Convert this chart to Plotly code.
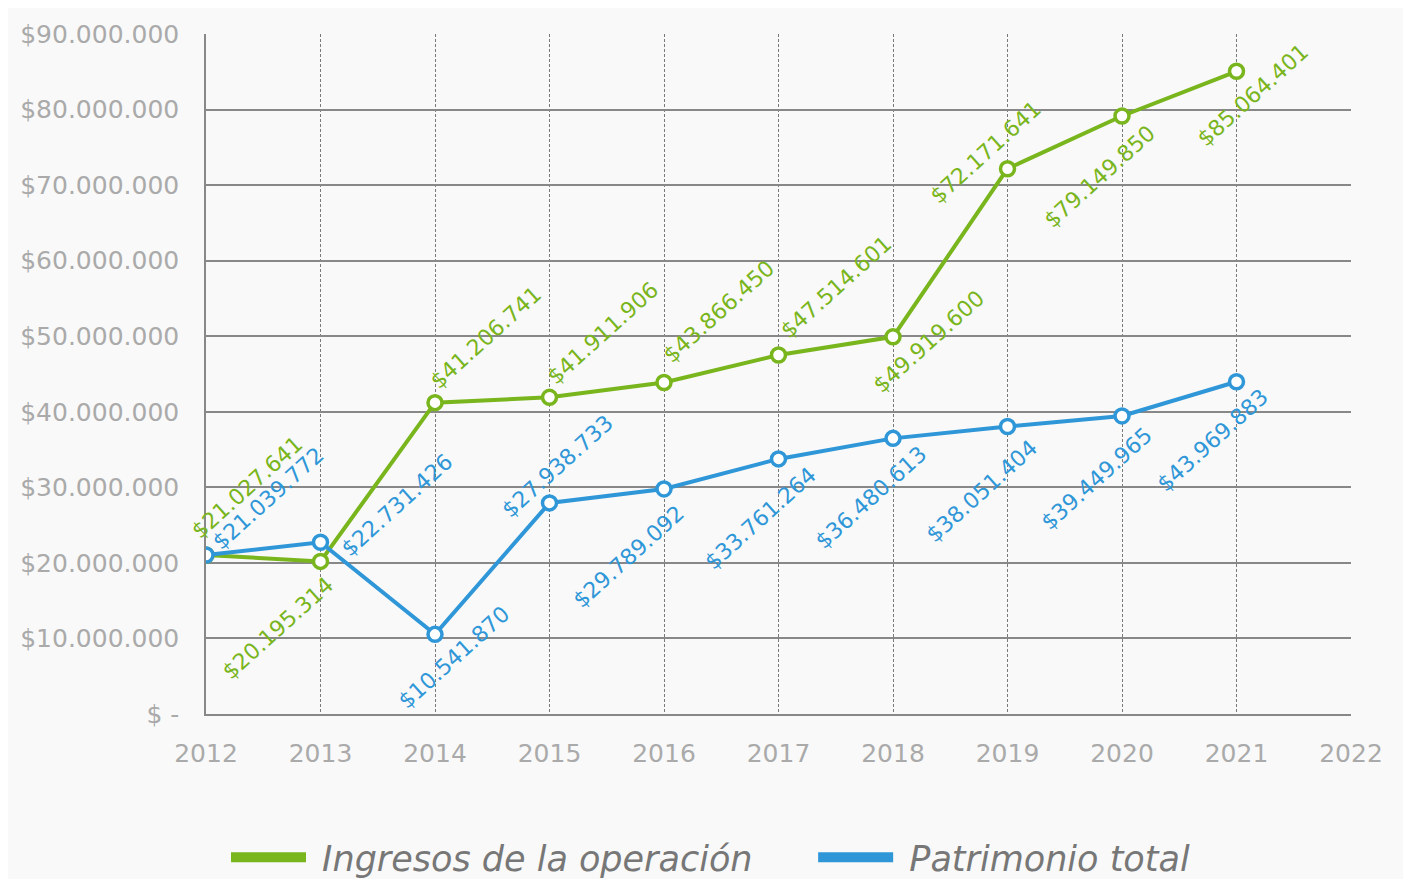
import plotly.graph_objects as go

years = [2012, 2013, 2014, 2015, 2016, 2017, 2018, 2019, 2020, 2021]
ingresos = [21027641, 20195314, 41206741, 41911906, 43866450, 47514601, 49919600, 72171641, 79149850, 85064401]
patrimonio = [21039772, 22731426, 10541870, 27938733, 29789092, 33761264, 36480613, 38051404, 39449965, 43969883]

ytick_vals = [0, 10e6, 20e6, 30e6, 40e6, 50e6, 60e6, 70e6, 80e6, 90e6]
ytick_text = ["$ -", "$10.000.000", "$20.000.000", "$30.000.000", "$40.000.000",
              "$50.000.000", "$60.000.000", "$70.000.000", "$80.000.000", "$90.000.000"]
xtick_vals = list(range(2012, 2023))

GREEN = "#79b51c"
BLUE = "#2f97d8"
BG = "#f9f9f9"

# label offsets in pixels (dx right, dy up) relative to each point
green_off = [(41, 68), (-43, -67), (51, 65), (53, 64), (55, 71), (57, 68), (36, -5), (-22, 16), (-22, -61), (16, -24)]
blue_off = [(62, 57), (76, 37), (19, -23), (8, 36), (-35, -68), (-18, -60), (-22, -59), (-26, -65), (-25, -63), (-24, -59)]


def fmt(v):
    return "$" + f"{v:,}".replace(",", ".")


fig = go.Figure()

for name, vals, col in [("Ingresos de la operación", ingresos, GREEN),
                        ("Patrimonio total", patrimonio, BLUE)]:
    fig.add_trace(go.Scatter(
        x=years, y=vals, mode="lines+markers", name=name, showlegend=False,
        line=dict(color=col, width=4),
        marker=dict(symbol="circle", size=14, color="white", line=dict(color=col, width=3.5)),
        hoverinfo="x+y",
    ))

legend_names = ["\u00a0Ingresos de la operación" + "\u00a0" * 5, "\u00a0Patrimonio total"]
for name, col in zip(legend_names, [GREEN, BLUE]):
    fig.add_trace(go.Scatter(x=[None], y=[None], mode="lines", name=name,
                             line=dict(color=col, width=14), showlegend=True))

annotations = []
for vals, offs, col in [(ingresos, green_off, GREEN), (patrimonio, blue_off, BLUE)]:
    for x, v, (dx, dy) in zip(years, vals, offs):
        annotations.append(dict(
            x=x, y=v, xref="x", yref="y", text=fmt(v), showarrow=False,
            textangle=-42, xanchor="center", yanchor="middle",
            xshift=dx, yshift=dy,
            font=dict(family="DejaVu Sans", size=22, color=col),
        ))

fig.update_layout(
    width=1411, height=879,
    margin=dict(l=197, r=68, t=19, b=173),
    paper_bgcolor=BG, plot_bgcolor=BG,
    annotations=annotations,
    legend=dict(orientation="h", xref="container", yref="container", x=0.1545, y=0.0,
                xanchor="left", yanchor="bottom", itemwidth=75,
                font=dict(family="DejaVu Sans", size=35, color="#777777", style="italic"),
                bgcolor="rgba(0,0,0,0)", traceorder="normal"),
    xaxis=dict(range=[2012, 2022], tickvals=xtick_vals, ticktext=[str(t) for t in xtick_vals],
               showgrid=True, gridcolor="#7a7a7a", gridwidth=1, griddash="3px,2px",
               showline=True, linecolor="#888888", linewidth=1.5,
               ticks="outside", ticklen=16, tickcolor=BG,
               tickfont=dict(family="DejaVu Sans", size=25, color="#aaaaaa"),
               zeroline=False, fixedrange=True),
    yaxis=dict(range=[0, 90e6], tickvals=ytick_vals, ticktext=ytick_text,
               showgrid=True, gridcolor="#888888", gridwidth=1.5,
               showline=True, linecolor="#888888", linewidth=1.5,
               ticks="outside", ticklen=20, tickcolor=BG,
               tickfont=dict(family="DejaVu Sans", size=25, color="#aaaaaa"),
               zeroline=False, fixedrange=True),
)

fig.write_html("out.html")
